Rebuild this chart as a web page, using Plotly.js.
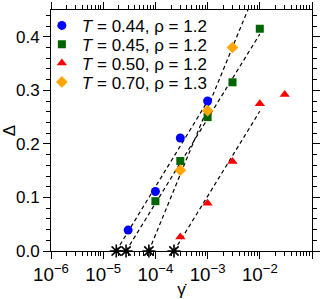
<!DOCTYPE html>
<html>
<head>
<meta charset="utf-8">
<script src="https://cdn.plot.ly/plotly-3.0.1.min.js"></script>
<style>html,body{margin:0;padding:0;background:#fff;}#chart{width:327px;height:299px;}</style>
</head>
<body>
<div id="chart"></div>
<script>
// Data series (shear rate gamma-dot vs Delta)
const series = [
  {name: "<i>T</i> = 0.44, ρ = 1.2", color: "#0000ff", symbol: "circle", size: 9,
   x: [3e-5, 1e-4, 3e-4, 1e-3], y: [0.039, 0.111, 0.211, 0.280]},
  {name: "<i>T</i> = 0.45, ρ = 1.2", color: "#006400", symbol: "square", size: 8,
   x: [1e-4, 3e-4, 1e-3, 3e-3, 1e-2], y: [0.093, 0.168, 0.250, 0.315, 0.415]},
  {name: "<i>T</i> = 0.50, ρ = 1.2", color: "#ff0000", symbol: "triangle-up", size: 9,
   x: [3e-4, 1e-3, 3e-3, 1e-2, 3e-2], y: [0.026, 0.089, 0.167, 0.275, 0.292]},
  {name: "<i>T</i> = 0.70, ρ = 1.3", color: "#ffa500", symbol: "diamond", size: 9,
   x: [3e-4, 1e-3, 3e-3], y: [0.151, 0.262, 0.380]}
];
// Extrapolated onset points (Delta = 0)
const onsetX = [1.78e-5, 2.74e-5, 7.5e-5, 2.27e-4];
const onsetY = [0, 0, 0, 0];
// Dashed fit lines (start, end)
const fitLinesX = [[1.78e-5, 1.05e-3], [2.74e-5, 1e-2], [7.5e-5, 6e-3], [2.27e-4, 1e-2]];
const fitLinesY = [[0, 0.283], [0, 0.405], [0, 0.452], [0, 0.261]];
const yTickVals = [0, 0.1, 0.2, 0.3, 0.4];

const FONT = "Arial, Liberation Sans, sans-serif";
const traces = [];
fitLinesX.forEach((lx, i) => {
  traces.push({x: lx, y: fitLinesY[i], mode: "lines", showlegend: false, hoverinfo: "skip",
    line: {color: "#000", width: 1.2, dash: "4px,3px"}});
});
traces.push({x: onsetX, y: onsetY, mode: "markers", showlegend: false, cliponaxis: false,
  marker: {symbol: "asterisk-open", size: 11, color: "#000", line: {color: "#000", width: 1.6}}});
const legendCenters = [25, 44, 63, 82];
const plotTop = 8, plotH = 243;
const layoutLegends = {};
series.forEach((s, i) => {
  const lg = i === 0 ? "legend" : "legend" + (i + 1);
  traces.push({x: s.x, y: s.y, name: s.name, mode: "markers", legend: lg, cliponaxis: false,
    marker: {symbol: s.symbol, size: s.size, color: s.color, line: {width: 0}}});
  layoutLegends[lg] = {x: -0.035, xanchor: "left", y: 1 - (legendCenters[i] - 1 - plotTop) / plotH,
    yanchor: "middle", bgcolor: "rgba(0,0,0,0)", borderwidth: 0,
    font: {family: FONT, size: 17, color: "#000"}};
});

const axisCommon = {showline: true, linecolor: "#000", linewidth: 1, mirror: "ticks",
  ticks: "outside", tickcolor: "#000", ticklen: 7, tickwidth: 1, showgrid: false, zeroline: false};

const layout = Object.assign({
  width: 327, height: 299,
  margin: {l: 51, r: 15, t: 8, b: 48},
  paper_bgcolor: "#fff", plot_bgcolor: "#fff",
  xaxis: Object.assign({}, axisCommon, {type: "log", range: [-6, -1], dtick: 1, tickangle: 0,
    exponentformat: "power", tickfont: {family: FONT, size: 15, color: "#000"},
    minor: {ticks: "outside", ticklen: 4, tickcolor: "#000", dtick: "D1", showgrid: false},
    title: {text: "γ̇", standoff: 2, font: {family: FONT, size: 17, color: "#000"}}}),
  yaxis: Object.assign({}, axisCommon, {range: [0, 0.45], tickvals: yTickVals, tickformat: ".1f",
    tickfont: {family: FONT, size: 17, color: "#000"},
    minor: {ticks: "outside", ticklen: 4, tickcolor: "#000", dtick: 0.02, showgrid: false},
    title: {text: "Δ", standoff: 6, font: {family: FONT, size: 17, color: "#000"}}}),
  showlegend: true
}, layoutLegends);

Plotly.newPlot("chart", traces, layout, {staticPlot: true, displayModeBar: false});
</script>
</body>
</html>
